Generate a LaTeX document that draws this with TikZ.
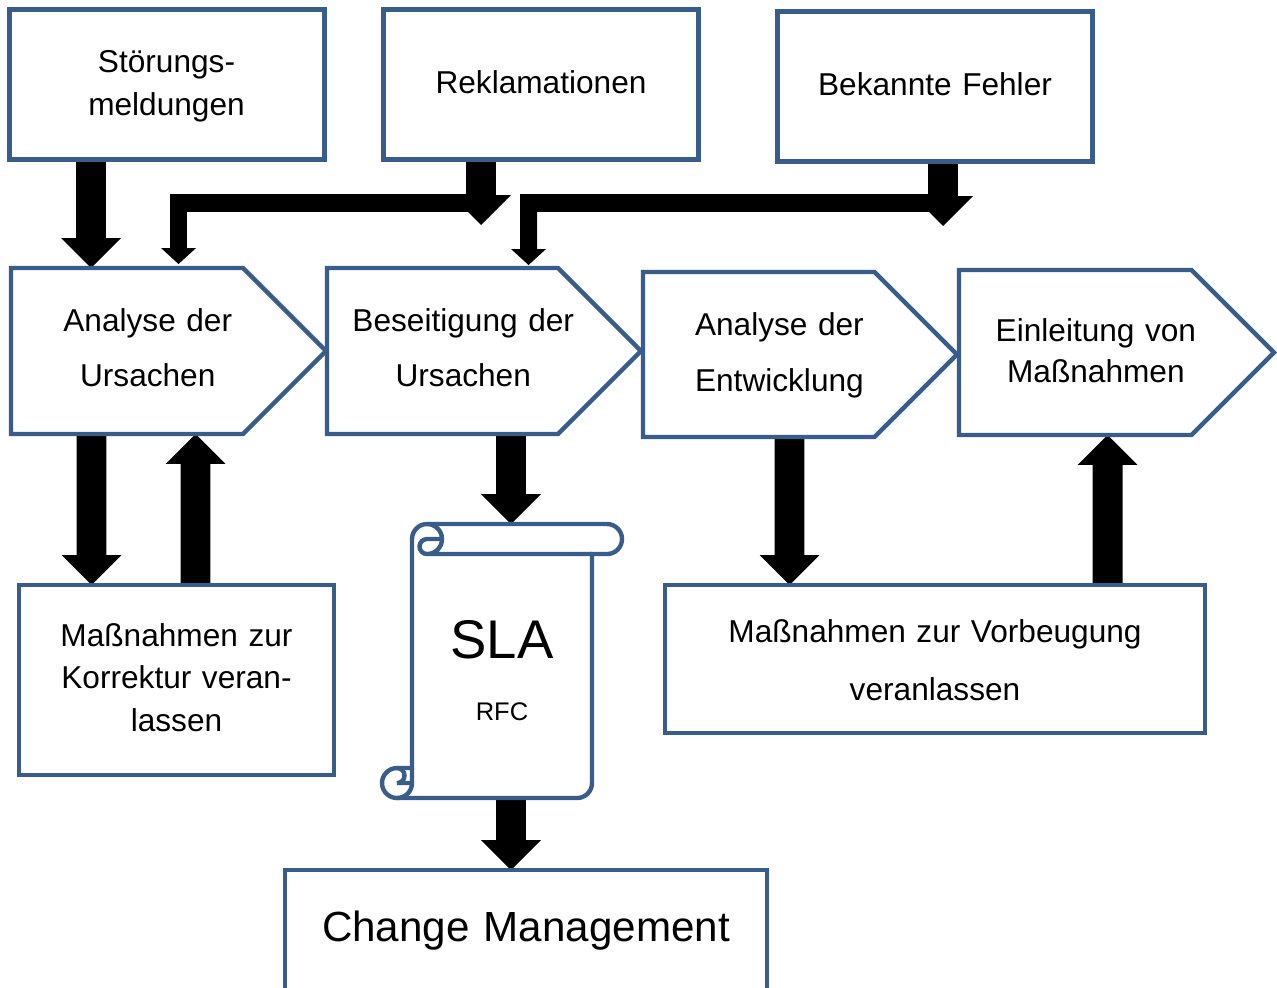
\documentclass[tikz,border=0pt]{standalone}
\usepackage{fontspec}
\setmainfont{Liberation Sans}
\usetikzlibrary{calc}
\pgfdeclarelayer{back}
\pgfdeclarelayer{conn}
\pgfsetlayers{back,conn,main}
\definecolor{frame}{HTML}{385D8A}
% one drawing unit = 0.02cm
\newcommand\pxu{0.5669pt}
% vertical block arrow: x taken from #1, tip height taken from #2
\newcommand\blockarrow[2]{%
  \fill[black] let \p1=#1, \p2=#2, \n1={sign(\y2-\y1)} in
    ({\x1-15*\pxu},\y1) -- ({\x1-15*\pxu},{\y2-(\n1)*30*\pxu})
    -- ({\x1-30*\pxu},{\y2-(\n1)*30*\pxu}) -- (\x1,\y2)
    -- ({\x1+30*\pxu},{\y2-(\n1)*30*\pxu}) -- ({\x1+15*\pxu},{\y2-(\n1)*30*\pxu})
    -- ({\x1+15*\pxu},\y1) -- cycle;}
% bent arrow: horizontal bar starting at #1, turning down to the tip #2
\newcommand\bentarrow[2]{%
  \fill[black] let \p1=#1, \p2=#2 in
    (\x1,{\y1+9*\pxu}) -- ({\x2-8.5*\pxu},{\y1+9*\pxu})
    -- ({\x2-8.5*\pxu},{\y2+16*\pxu}) -- ({\x2-17.5*\pxu},{\y2+16*\pxu})
    -- (\x2,\y2) -- ({\x2+17.5*\pxu},{\y2+16*\pxu})
    -- ({\x2+8.5*\pxu},{\y2+16*\pxu}) -- ({\x2+8.5*\pxu},{\y1-9*\pxu})
    -- (\x1,{\y1-9*\pxu}) -- cycle;}
\begin{document}
\begin{tikzpicture}[x=0.02cm, y=-0.02cm,
  box/.style={draw=frame, line width=2.5pt, fill=white, rectangle, inner sep=0pt, outer sep=0pt},
  area/.style={rectangle, inner sep=0pt, outer sep=0pt},
  outline/.style={draw=frame, line width=2.5pt, fill=white},
  txt/.style={font=\fontsize{18pt}{#1}\selectfont, text width=12cm, align=center,
              inner sep=0pt, anchor=base},
  txt/.default=24pt]

\useasboundingbox (0,0) rectangle (1277,987);
\begin{pgfonlayer}{back}
  \fill[white] (0,0) rectangle (1277,987);
\end{pgfonlayer}

% input boxes
\node[box, minimum width=6.3cm, minimum height=3cm] (stoer)   at (167,84.5) {};
\node[box, minimum width=6.3cm, minimum height=3cm] (reklam)  at (541,84.5) {};
\node[box, minimum width=6.3cm, minimum height=3cm] (bekannt) at (935,86.5) {};

% process chevrons (area = text region, outline adds the point)
\node[area, minimum width=5.47cm,  minimum height=3.32cm] (a1) at (147.75,351) {};
\node[area, minimum width=5.45cm,  minimum height=3.32cm] (a2) at (463.25,351) {};
\node[area, minimum width=5.455cm, minimum height=3.3cm]  (a3) at (779.375,354.5) {};
\node[area, minimum width=5.475cm, minimum height=3.3cm]  (a4) at (1095.875,352.5) {};
\draw[outline] (a1.north west) -- ++(232,0) -- ++(83,83) -- ++(-83,83) -- (a1.south west) -- cycle;
\draw[outline] (a2.north west) -- ++(231,0) -- ++(83,83) -- ++(-83,83) -- (a2.south west) -- cycle;
\draw[outline] (a3.north west) -- ++(231.5,0) -- ++(82.5,82.5) -- ++(-82.5,82.5) -- (a3.south west) -- cycle;
\draw[outline] (a4.north west) -- ++(232.5,0) -- ++(82.5,82.5) -- ++(-82.5,82.5) -- (a4.south west) -- cycle;

% result boxes
\node[box, minimum width=6.3cm,  minimum height=3.8cm]  (korr)   at (176.5,680) {};
\node[box, minimum width=10.8cm, minimum height=2.96cm] (vorb)   at (935,659) {};
\node[box, minimum width=9.64cm, minimum height=2.8cm]  (change) at (526,940) {};

% scroll
\node[area, minimum width=3.6cm, minimum height=5.48cm] (scroll) at (502,661) {};
\begin{scope}[shift={(scroll.north west)}]
  \draw[outline] (0,244) -- (0,15) arc[start angle=180, delta angle=90, radius=15]
    -- (195,0) arc[start angle=270, delta angle=180, radius=15]
    -- (180,30) -- (180,259) arc[start angle=0, delta angle=90, radius=15]
    -- (-15,274) arc[start angle=90, delta angle=180, radius=15] -- cycle;
  \draw[draw=frame, line width=2.5pt]
    (15,0) arc[start angle=270, delta angle=180, radius=15]
           arc[start angle=90, delta angle=180, radius=7.5] -- (30,15)
    (180,30) -- (15,30)
    (-15,244) arc[start angle=270, delta angle=180, radius=7.5] -- (0,259)
    (-15,274) arc[start angle=90, delta angle=-90, radius=15] -- (0,244);
\end{scope}

% free ends of the two short arrows
\coordinate (rk-tip) at ($(reklam.south west)+(97.5,65.5)$);
\coordinate (bk-tip) at ($(bekannt.south west)+(165.5,64.5)$);

% connectors
\begin{pgfonlayer}{conn}
  \blockarrow{($(stoer.south west)+(81.5,0)$)}{(a1.north)}
  \bentarrow{($(reklam.south west)+(97.5,43.5)$)}{($(a1.north west)+(167.5,-4)$)}
  \blockarrow{($(reklam.south west)+(97.5,0)$)}{(rk-tip)}
  \bentarrow{($(bekannt.south west)+(165.5,41.5)$)}{($(a2.north west)+(201.5,-3)$)}
  \blockarrow{($(bekannt.south west)+(165.5,0)$)}{(bk-tip)}
  \blockarrow{($(a1.south west)+(80.5,0)$)}{(korr.north)}
  \blockarrow{($(korr.north west)+(176.5,0)$)}{(a1.south)}
  \blockarrow{($(a2.south west)+(184,0)$)}{(scroll.north)}
  \blockarrow{($(a3.south west)+(146.5,0)$)}{(vorb.north)}
  \blockarrow{($(vorb.north west)+(442.5,0)$)}{(a4.south)}
  \blockarrow{($(scroll.south west)+(99,0)$)}{(change.north)}
\end{pgfonlayer}

% labels
\node[txt=24.9pt]  (stoer-t)   at (166.5,72)   {Störungs-\\meldungen};
\node[txt]         (reklam-t)  at (541,93)     {Reklamationen};
\node[txt]         (bekannt-t) at (935,95)     {Bekannte Fehler};
\node[txt=31.75pt] (a1-t)      at (147.75,331) {Analyse der\\Ursachen};
\node[txt=31.75pt] (a2-t)      at (463.25,331) {Beseitigung der\\Ursachen};
\node[txt=32.3pt]  (a3-t)      at (779.4,335)  {Analyse der\\Entwicklung};
\node[txt=23.8pt]  (a4-t)      at (1095.9,341) {Einleitung von\\Maßnahmen};
\node[txt=24.38pt] (korr-t)    at (176.5,646)  {Maßnahmen zur\\Korrektur veran-\\lassen};
\node[txt=33.4pt]  (vorb-t)    at (935,642)    {Maßnahmen zur Vorbeugung\\veranlassen};
\node[txt, font=\fontsize{31pt}{36pt}\selectfont]   (sla-t)    at (502,658) {SLA};
\node[txt, font=\fontsize{14.5pt}{18pt}\selectfont] (rfc-t)    at (502,720) {RFC};
\node[txt, font=\fontsize{24pt}{29pt}\selectfont]   (change-t) at (526,941) {Change Management};
\end{tikzpicture}
\end{document}
